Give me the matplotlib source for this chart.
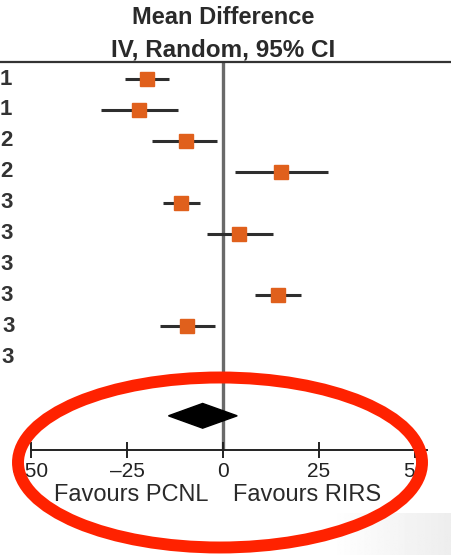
import numpy as np
import matplotlib
matplotlib.use("Agg")
import matplotlib.pyplot as plt
from matplotlib.patches import Ellipse

plt.rcParams['font.family'] = ['Liberation Sans', 'DejaVu Sans']

# study rows (the crop keeps only the last digit of each study year)
year_digits = ["1", "1", "2", "2", "3", "3", "3", "3", "3", "3"]
md = [-19.7, -22.0, -9.6, 15.2, -10.9, 4.2, np.nan, 14.3, -9.4, np.nan]
ci_lo = [-25.6, -31.9, -18.4, 3.1, -15.5, -4.2, np.nan, 8.3, -16.5, np.nan]
ci_hi = [-14.0, -11.7, -1.6, 27.3, -6.0, 12.9, np.nan, 20.4, -2.2, np.nan]

pooled_md = -5.3
pooled_lo = -14.2
pooled_hi = 3.7

xticks = [-50, -25, 0, 25, 50]

W, H = 452, 555
fig = plt.figure(figsize=(W / 100, H / 100), dpi=100)
ax = fig.add_axes([0, 0, 1, 1])

# pixel mapping: zero line at x=223px, 3.84 px per unit; row 0 at y=79px, 30.9 px per row
px_unit = 3.84
x0 = 223
ax.set_xlim(-x0 / px_unit, (W - x0) / px_unit)
row0, row_h = 79, 30.9
ax.set_ylim((H - row0) / row_h, -row0 / row_h)

rows = np.arange(len(year_digits))
top_y = -0.55
axis_y = 12.0
pooled_y = 10.9

# spines: top rule across the whole width, bottom as the scale
for s in ['left', 'right']:
    ax.spines[s].set_visible(False)
ax.spines['top'].set_position(('data', top_y))
ax.spines['top'].set_color('#333333')
ax.spines['top'].set_linewidth(1.6)
ax.spines['bottom'].set_position(('data', axis_y))
ax.spines['bottom'].set_bounds(-50, 53)
ax.spines['bottom'].set_color('#222222')
ax.spines['bottom'].set_linewidth(1.4)
ax.set_xticks(xticks)
ax.set_xticklabels([str(t).replace('-', '\u2013') for t in xticks])
ax.tick_params(axis='x', direction='inout', length=11, width=1.4, color='#222222',
               labelsize=15, pad=3, labelcolor='#222222')
ax.set_yticks([])
ax.patch.set_alpha(0)

# zero line
ax.vlines(0, top_y, axis_y, color='#6a6a6a', lw=2.4, zorder=1)

# studies
ax.hlines(rows, ci_lo, ci_hi, color='#2e2e2e', lw=2.2, zorder=2)
ax.plot(md, rows, 's', color='#e0601c', markersize=10.5, zorder=3)

# pooled diamond
dh = 0.4
ax.fill([pooled_lo, pooled_md, pooled_hi, pooled_md],
        [pooled_y, pooled_y - dh, pooled_y, pooled_y + dh], color='black', zorder=3)

# study labels at the left edge (left-aligned names end at different places)
label_px = [0, 0, 0, 0, 0, 0, 0, 0, 2, 1]
for r, d, px in zip(rows, year_digits, label_px):
    ax.text((px - x0) / px_unit, r, d, ha='left', va='center', fontsize=16,
            fontweight='bold', color='#333333')

# header
ax.text(0, -1.98, "Mean Difference", ha='center', va='center', fontsize=17,
        fontweight='bold', color='#2a2a2a')
ax.text(0, -0.93, "IV, Random, 95% CI", ha='center', va='center', fontsize=17.5,
        fontweight='bold', color='#2a2a2a')

# favours labels
ax.text(-3.8, 13.46, "Favours PCNL", ha='right', va='center', fontsize=17, color='#2a2a2a')
ax.text(2.6, 13.46, "Favours RIRS", ha='left', va='center', fontsize=17, color='#2a2a2a')

# light grey shade in the bottom-right corner
gax = fig.add_axes([330 / W, 0, 1 - 330 / W, 42 / H], zorder=-1)
grad = np.linspace(1.0, 0.93, 100)[None, :]
gax.imshow(grad, cmap='gray', vmin=0, vmax=1, aspect='auto')
gax.axis('off')

# red annotation ellipse
ell = Ellipse((220 / W, 1 - 462.5 / H), 404 / W, 170 / H, transform=fig.transFigure,
              fill=False, edgecolor='#ff2200', lw=8.6, zorder=10)
fig.add_artist(ell)

fig.savefig("out.png", dpi=100, facecolor='white')
